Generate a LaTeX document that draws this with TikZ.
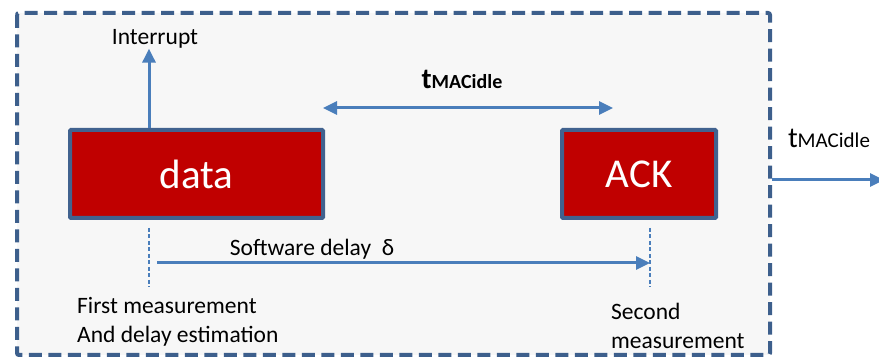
\documentclass[tikz,border=0pt]{standalone}
\usepackage{fontspec}
\setmainfont{Carlito}
\usetikzlibrary{positioning}
\usetikzlibrary{arrows.meta}
\definecolor{framecol}{HTML}{3D5F8C}
\definecolor{boxred}{HTML}{C00000}
\definecolor{boxline}{HTML}{41628F}
\definecolor{arrowcol}{HTML}{4A7EBB}
\definecolor{panel}{HTML}{F7F7F7}
\tikzset{
        % Outer dashed frame
        frame_outer/.style={draw=framecol, line width=4pt, dash pattern=on 13pt off 6.5pt, fill=panel, rounded corners=2pt},
        % Red frames
        frame_red/.style={rectangle, draw=boxline, line width=4pt, fill=boxred, text=white, inner sep=0pt, rounded corners=1pt, font=\fontsize{41}{48}\selectfont},
        % Arrows
        flow/.style={draw=arrowcol, line width=3pt, -{Triangle[length=14pt,width=13pt]}},
        % Measurement markers
        marker/.style={draw=arrowcol, line width=1.6pt, dash pattern=on 4pt off 2.5pt},
        % Texts
        note/.style={inner sep=0pt, align=left, font=\fontsize{23.5}{29}\selectfont}
}
\newcommand{\tidle}[1]{{\fontsize{29}{30}\selectfont t}{\fontsize{#1}{22}\selectfont MACidle}}

\begin{document}
\begin{tikzpicture}[x=1pt, y=-1pt]
            \useasboundingbox (0,0) rectangle (879,358);
            \draw[frame_outer] (17,13) rectangle (770,355);
            \coordinate (frame_east) at (772,180);
            \coordinate (out) at (884,180);

            \node[frame_red, minimum width=253pt, minimum height=88pt] (data) at (196.5,174) {data};
            \node[frame_red, minimum width=154pt, minimum height=88pt] (ack) at (639,174) {ACK};

            \node[note] (interrupt) at (155,39) {Interrupt};
            \node[note, font=\bfseries] (idle_mid) at (462,79) {\tidle{20}};
            \node[note] (idle_out) at (829,138) {\tidle{21}};
            \node[note] (sw_delay) at (312,249) {Software delay~~δ};
            \node[note, anchor=west] (first) at (77,322) {First measurement\\And delay estimation};
            \node[note, anchor=west] (second) at (611,326) {Second\\measurement};

            \coordinate (m1_top) at (149,228);
            \coordinate (m1_bot) at (149,287);
            \coordinate (m2_top) at (650,228);
            \coordinate (m2_bot) at (650,287);
            \coordinate (idle_a) at (323,108);
            \coordinate (idle_b) at (613,108);

            \draw[flow] (data.north -| m1_top) -- (interrupt.south -| m1_top);
            \draw[flow, {Triangle[length=14pt,width=13pt]}-{Triangle[length=14pt,width=13pt]}] (idle_a) -- (idle_b);
            \draw[marker] (m1_top) -- (m1_bot);
            \draw[marker] (m2_top) -- (m2_bot);
            \draw[flow] ([xshift=8pt]m1_top |- 0,263) -- (m2_top |- 0,263);
            \draw[flow] (frame_east) -- (out);
\end{tikzpicture}
\end{document}
